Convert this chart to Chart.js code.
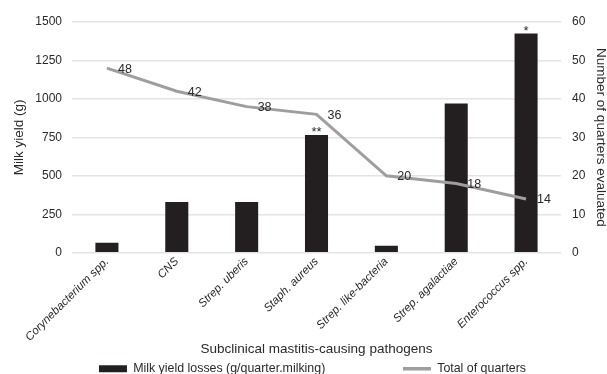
<!DOCTYPE html>
<html>
<head>
<meta charset="utf-8">
<script src="https://cdn.jsdelivr.net/npm/chart.js@4"></script>
<style>
  html, body { margin: 0; padding: 0; background: #fff; }
  #wrap { width: 607px; height: 374px; }
</style>
</head>
<body>
<div id="wrap"><canvas id="chart"></canvas></div>
<script>
// Data
const pathogens = ['Corynebacterium spp.', 'CNS', 'Strep. uberis', 'Staph. aureus', 'Strep. like-bacteria', 'Strep. agalactiae', 'Enterococcus spp.'];
const milkLoss = [65, 330, 330, 765, 45, 970, 1425];
const quarters = [48, 42, 38, 36, 20, 18, 14];
const stars = ['', '', '', '**', '', '', '*'];
const leftTicks = [0, 250, 500, 750, 1000, 1250, 1500];
const rightTicks = [0, 10, 20, 30, 40, 50, 60];

const FONT = 'Liberation Sans, Arial, sans-serif';
const TXT = '#2a2a2a';

// numbers next to the line points and stars above bars
const labelsPlugin = {
  id: 'labels',
  afterDatasetsDraw(chart) {
    const c = chart.ctx;
    c.save();
    c.font = '12.5px ' + FONT;
    c.fillStyle = TXT;
    c.textBaseline = 'middle';
    c.textAlign = 'left';
    chart.getDatasetMeta(1).data.forEach((pt, i) => {
      c.fillText(quarters[i], pt.x + 11, pt.y + 1);
    });
    c.textAlign = 'center';
    c.textBaseline = 'bottom';
    c.font = '13px ' + FONT;
    chart.getDatasetMeta(0).data.forEach((bar, i) => {
      if (stars[i]) c.fillText(stars[i], bar.x, bar.y + 4);
    });
    c.restore();
  }
};

new Chart(document.getElementById('chart'), {
  data: {
    labels: pathogens,
    datasets: [{
      type: 'bar',
      label: 'Milk yield losses (g/quarter.milking)',
      data: milkLoss,
      backgroundColor: '#231f20',
      borderWidth: 0,
      barPercentage: 0.33,
      categoryPercentage: 1,
      yAxisID: 'y',
      order: 1
    }, {
      type: 'line',
      label: 'Total of quarters',
      data: quarters,
      borderColor: '#9e9e9e',
      backgroundColor: '#9e9e9e',
      borderWidth: 3,
      pointRadius: 0,
      tension: 0,
      yAxisID: 'y1',
      order: 0
    }]
  },
  options: {
    responsive: true,
    maintainAspectRatio: false,
    animation: false,
    // negative right padding nudges the centred legend to the right
    layout: { padding: { left: 0, right: -18, top: 22, bottom: -11 } },
    plugins: {
      tooltip: { enabled: false },
      legend: {
        position: 'bottom',
        labels: {
          font: { family: FONT, size: 12.4 },
          color: TXT,
          usePointStyle: true,
          pointStyleWidth: 28,
          boxHeight: 7,
          padding: 2,
          sort: (a, b) => a.datasetIndex - b.datasetIndex,
          generateLabels(chart) {
            const items = Chart.defaults.plugins.legend.labels.generateLabels(chart);
            items.forEach(it => {
              if (it.datasetIndex === 0) {
                it.pointStyle = 'rect';
                it.lineWidth = 0;
                it.text = it.text + ' '.repeat(22);
              } else {
                it.pointStyle = 'line';
                it.lineWidth = 3.5;
                it.strokeStyle = '#9e9e9e';
              }
            });
            return items;
          }
        }
      }
    },
    scales: {
      x: {
        afterFit: scale => { scale.height -= 6; },
        grid: { display: false, drawTicks: false },
        border: { display: false },
        ticks: {
          minRotation: 45,
          maxRotation: 45,
          autoSkip: false,
          padding: 2,
          color: TXT,
          font: { family: FONT, size: 11.5, style: 'italic' }
        },
        title: {
          display: true,
          text: 'Subclinical mastitis-causing pathogens',
          color: TXT,
          padding: { top: 2, bottom: 5 },
          font: { family: FONT, size: 13.5, lineHeight: 1 }
        }
      },
      y: {
        position: 'left',
        min: 0,
        max: 1500,
        afterFit: scale => { scale.width = 72; },
        afterBuildTicks: axis => { axis.ticks = leftTicks.map(v => ({ value: v })); },
        grid: { color: '#e4e4e4', lineWidth: 1.5, drawTicks: false },
        border: { display: false },
        ticks: { padding: 10, color: TXT, font: { family: FONT, size: 12 }, callback: v => String(v) },
        title: {
          display: true,
          text: 'Milk yield (g)',
          color: TXT,
          padding: { top: 13, bottom: 4 },
          font: { family: FONT, size: 13.5, lineHeight: 1 }
        }
      },
      y1: {
        position: 'right',
        min: 0,
        max: 60,
        afterFit: scale => { scale.width = 64; },
        afterBuildTicks: axis => { axis.ticks = rightTicks.map(v => ({ value: v })); },
        grid: { drawOnChartArea: false, drawTicks: false },
        border: { display: false },
        ticks: { padding: 11, color: TXT, font: { family: FONT, size: 12 }, callback: v => String(v) },
        title: {
          display: true,
          text: 'Number of quarters evaluated',
          color: TXT,
          padding: { top: 18, bottom: 4 },
          font: { family: FONT, size: 13.5, lineHeight: 1 }
        }
      }
    }
  },
  plugins: [labelsPlugin]
});
</script>
</body>
</html>
